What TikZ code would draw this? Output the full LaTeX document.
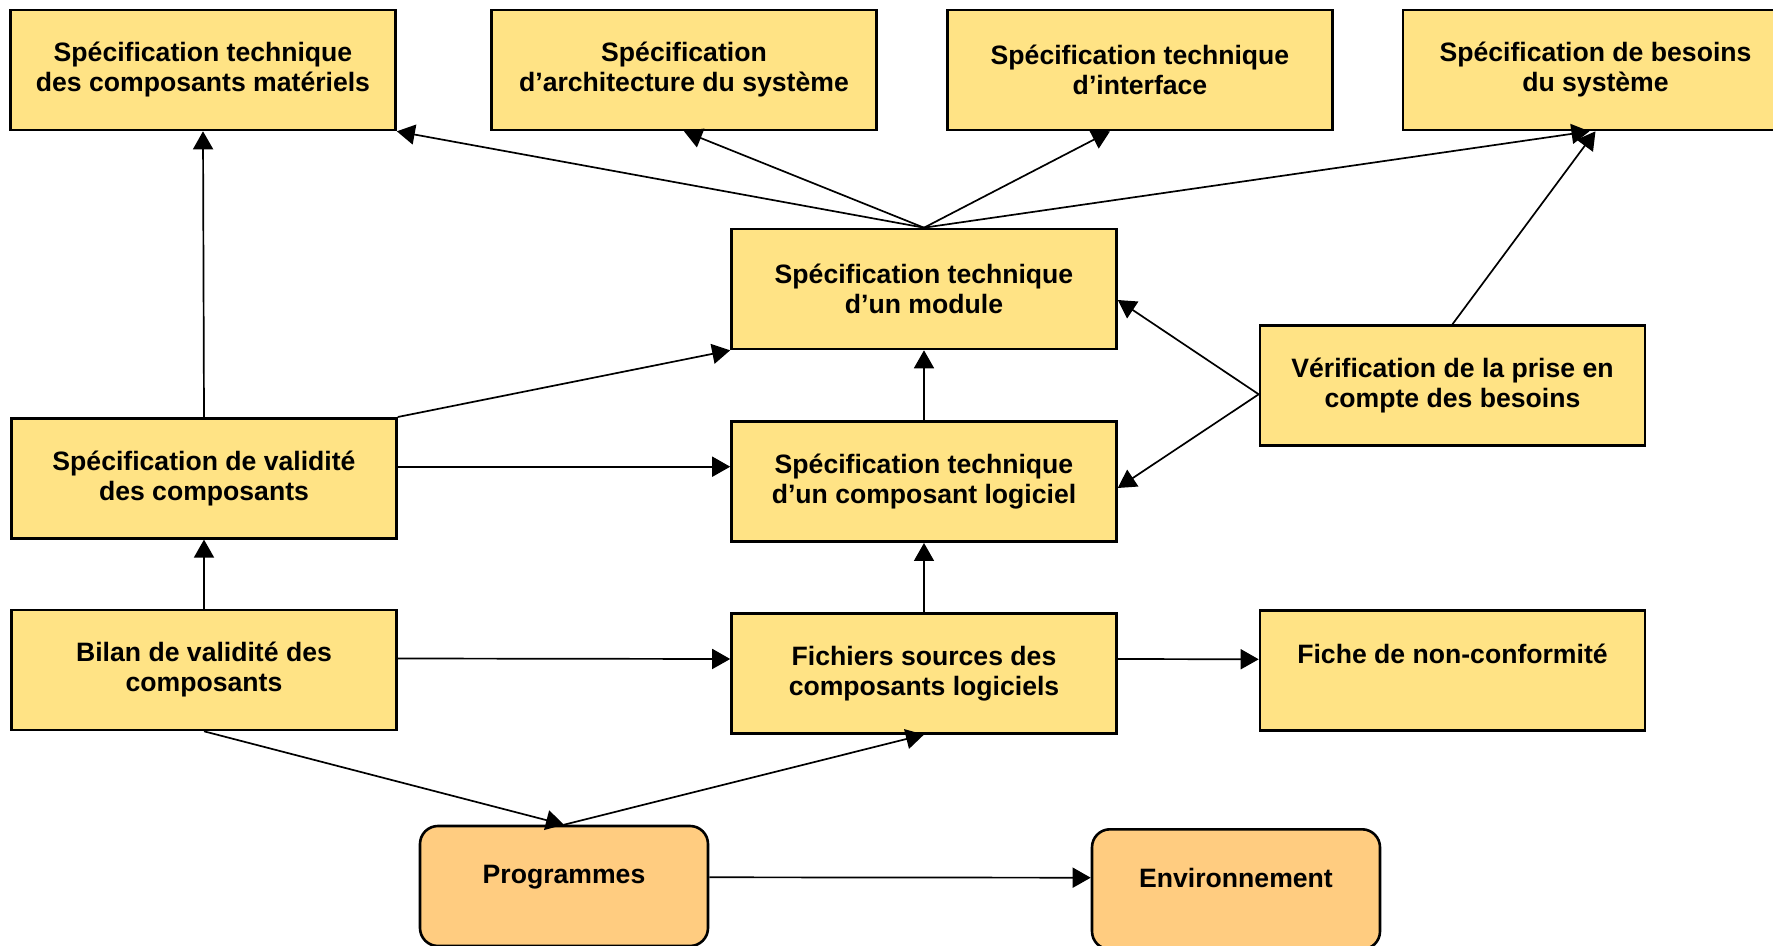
\documentclass[tikz,border=0pt]{standalone}
\usepackage{fontspec}
\setmainfont{Liberation Sans}
\usepackage{xcolor}
\usepackage{tikz}
\usetikzlibrary{arrows.meta,positioning}
\definecolor{jaune}{HTML}{FFE385}
\definecolor{peche}{HTML}{FFCC80}
\definecolor{trait}{HTML}{000000}
\tikzset{
  boite/.style={draw=trait, fill=jaune, line width=1.3pt, minimum width=192.5pt, minimum height=60pt,
    align=center, inner sep=2pt, font=\fontsize{13.3}{15}\selectfont\bfseries},
  ronde/.style={boite, fill=peche, rounded corners=9pt, minimum width=144pt},
  fl/.style={draw=trait, line width=0.85pt, -{Triangle[length=9pt,width=10pt]}},
}

\begin{document}
\begin{tikzpicture}[x=0.5pt,y=-0.5pt]
\useasboundingbox (0,0) rectangle (1773,946);
\clip (0,0) rectangle (1773,946);
% ligne du haut
\node[boite] (mat) at (203,70) {Spécification technique\\des composants matériels};
\node[boite] (archi) at (684,70) {Spécification\\d’architecture du système};
\node[boite] (inter) at (1140,70) {Spécification technique\\d’interface};
\node[boite] (besoins) at (1595.5,70) {Spécification de besoins\\du système};
% colonne du milieu
\node[boite] (module) at (924,289) {Spécification technique\\d’un module};
\node[boite] (logiciel) at (924,481.7) {Spécification technique\\d’un composant logiciel};
\node[boite] (sources) at (924,673.3) {Fichiers sources des\\composants logiciels};
% gauche
\node[boite] (validite) at (204,478.3) {Spécification de validité\\des composants};
\node[boite] (bilan) at (204,670) {Bilan de validité des\\composants};
% droite
\node[boite] (verif) at (1452.5,385.5) {Vérification de la prise en\\compte des besoins};
\node[boite, text depth=17pt] (fiche) at (1452.5,670.3) {Fiche de non-conformité};
% bas
\node[ronde, text depth=11.5pt] (prog) at (564,886) {Programmes};
\node[ronde, text depth=11pt] (env) at (1236,889.3) {Environnement};

% fleches
\draw[fl] (module.north) -- (mat.south east);
\draw[fl] (module.north) -- (archi.south);
\draw[fl] (module.north) -- ([xshift=-15pt]inter.south);
\draw[fl] (module.north) -- ([xshift=-3pt]besoins.south);
\draw[fl] (verif.north) -- (besoins.south);
\draw[fl] ([yshift=-4.4pt]verif.west) -- ([yshift=-5.5pt]module.east);
\draw[fl] ([yshift=-4.4pt]verif.west) -- ([yshift=-3.15pt]logiciel.east);
\draw[fl] (validite.north) -- (mat.south);
\draw[fl] (validite.north east) -- (module.south west);
\draw[fl] ([yshift=5.8pt]validite.east) -- ([yshift=7.5pt]logiciel.west);
\draw[fl] (logiciel.north) -- (module.south);
\draw[fl] (bilan.north) -- (validite.south);
\draw[fl] (sources.north) -- (logiciel.south);
\draw[fl] ([yshift=5.75pt]bilan.east) -- ([yshift=7.15pt]sources.west);
\draw[fl] ([yshift=7.15pt]sources.east) -- ([yshift=5.5pt]fiche.west);
\draw[fl] (bilan.south) -- (prog.north);
\draw[fl] (prog.north) -- (sources.south);
\draw[fl] ([yshift=4.35pt]prog.east) -- ([yshift=5.8pt]env.west);
\end{tikzpicture}
\end{document}
